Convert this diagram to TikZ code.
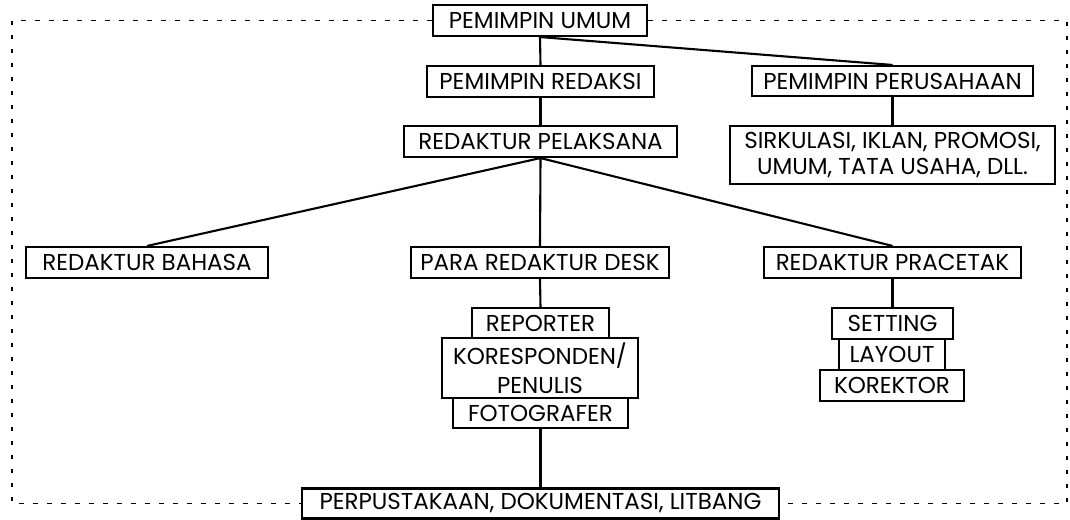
\documentclass[tikz,border=0pt]{standalone}
\usepackage{fontspec}
\setmainfont{Poppins}
\begin{document}
\begin{tikzpicture}[x=1pt,y=-1pt,
  box/.style={draw=black, line width=2.1pt, inner sep=0pt, align=center,
    font=\fontsize{23}{26}\selectfont, text=black},
  link/.style={line width=2.1pt, draw=black},
  frame/.style={line width=1.7pt, draw=black, dash pattern=on 4.5pt off 9.5pt}]
\useasboundingbox (0,0) rectangle (1070,519);

\node[box, minimum width=214pt, minimum height=31pt] (umum) at (540,20.5) {PEMIMPIN UMUM};
\node[box, minimum width=227pt, minimum height=31pt] (redaksi) at (540.5,81.5) {PEMIMPIN REDAKSI};
\node[box, minimum width=281pt, minimum height=30pt] (perusahaan) at (892.5,81) {PEMIMPIN PERUSAHAAN};
\node[box, minimum width=273pt, minimum height=31pt] (pelaksana) at (540.5,141.5) {REDAKTUR PELAKSANA};
\node[box, minimum width=325pt, minimum height=58pt] (sirkulasi) at (892.5,155) {SIRKULASI, IKLAN, PROMOSI,\\UMUM, TATA USAHA, DLL.};
\node[box, minimum width=242pt, minimum height=31pt] (bahasa) at (147,262.5) {REDAKTUR BAHASA};
\node[box, minimum width=258pt, minimum height=31pt] (desk) at (540,262.5) {PARA REDAKTUR DESK};
\node[box, minimum width=257pt, minimum height=31pt] (pracetak) at (892.5,262.5) {REDAKTUR PRACETAK};
\node[box, minimum width=137pt, minimum height=30pt] (reporter) at (540.5,323) {REPORTER};
\node[box, minimum width=196pt, minimum height=60pt, font=\fontsize{23}{29}\selectfont] (koresp) at (540,368) {KORESPONDEN/\\PENULIS};
\node[box, minimum width=175pt, minimum height=30pt] (foto) at (540.5,413) {FOTOGRAFER};
\node[box, minimum width=121pt, minimum height=31pt] (setting) at (892.5,323.5) {SETTING};
\node[box, minimum width=106pt, minimum height=31pt] (layout) at (892,354.5) {LAYOUT};
\node[box, minimum width=144pt, minimum height=31pt] (korektor) at (892,385.5) {KOREKTOR};
\node[box, minimum width=477pt, minimum height=30pt] (perpus) at (540.5,503.5) {PERPUSTAKAAN, DOKUMENTASI, LITBANG};

\coordinate (fl) at (12,0);
\coordinate (fr) at (1067,0);

\draw[frame] (umum.west) -| (fl |- perpus.west) -- (perpus.west);
\draw[frame] (umum.east) -| (fr |- perpus.east) -- (perpus.east);

\draw[link] (umum.south) -- (redaksi.north);
\draw[link] (umum.south) -- (perusahaan.north);
\draw[link] (redaksi.south) -- (pelaksana.north);
\draw[link] (perusahaan.south) -- (sirkulasi.north);
\draw[link] (pelaksana.south) -- (bahasa.north);
\draw[link] (pelaksana.south) -- (desk.north);
\draw[link] (pelaksana.south) -- (pracetak.north);
\draw[link] (desk.south) -- (reporter.north);
\draw[link] (pracetak.south) -- (setting.north);
\draw[link] (foto.south) -- (perpus.north);
\end{tikzpicture}
\end{document}
